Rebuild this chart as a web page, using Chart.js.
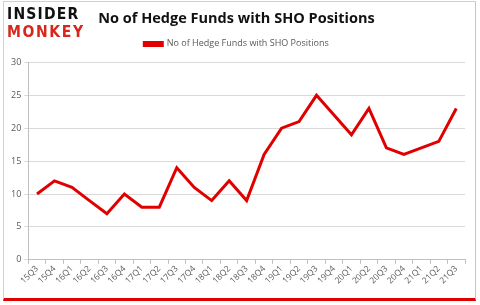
<!DOCTYPE html>
<html>
<head>
<meta charset="utf-8">
<script src="https://cdn.jsdelivr.net/npm/chart.js@4/dist/chart.umd.min.js"></script>
<style>
  html, body { margin: 0; padding: 0; background: #fff; }
  body { width: 480px; height: 305px; position: relative; overflow: hidden; }
  .card {
    position: absolute; left: 3px; top: 1px; width: 471px; height: 296px;
    border: 1px solid #d0d0d0; border-right-color: #f3b3b3;
    border-bottom: 3px solid #e00000;
  }
  .logo {
    position: absolute; left: 7px; top: 4px;
    font-family: "DejaVu Sans", sans-serif; font-weight: bold;
    font-size: 14px; line-height: 16px; letter-spacing: 1.2px;
    transform: scaleY(1.15); transform-origin: top left;
  }
  .logo .a { color: #111; }
  .logo .b { color: #d9261c; letter-spacing: 1.6px; }
  canvas { position: absolute; left: 0; top: 0; }
</style>
</head>
<body>
<div class="card"></div>
<canvas id="myChart" width="480" height="305"></canvas>
<div class="logo"><div class="a">INSIDER</div><div class="b">MONKEY</div></div>
<script>
const quarters = ["15Q3", "15Q4", "16Q1", "16Q2", "16Q3", "16Q4", "17Q1", "17Q2", "17Q3", "17Q4",
  "18Q1", "18Q2", "18Q3", "18Q4", "19Q1", "19Q2", "19Q3", "19Q4", "20Q1", "20Q2",
  "20Q3", "20Q4", "21Q1", "21Q2", "21Q3"];
const hedgeFunds = [10, 12, 11, 9, 7, 10, 8, 8, 14, 11, 9, 12, 9, 16, 20, 21, 25, 22, 19, 23, 17, 16, 17, 18, 23];
const seriesName = "No of Hedge Funds with SHO Positions";

// a bit more room under the legend, like the original
const legendGap = {
  id: "legendGap",
  afterInit(chart) {
    const fit = chart.legend.fit;
    chart.legend.fit = function () {
      fit.call(this);
      this.height += 4;
    };
  }
};

const ctx = document.getElementById("myChart");
new Chart(ctx, {
  type: "line",
  data: {
    labels: quarters,
    datasets: [
      {
        label: seriesName,
        data: hedgeFunds,
        borderColor: "#e00000",
        backgroundColor: "#e00000",
        borderWidth: 3,
        pointRadius: 0,
        tension: 0,
        fill: false
      }
    ]
  },
  options: {
    responsive: false,
    animation: false,
    layout: { padding: { top: 10, left: 8, right: 15, bottom: 19 } },
    plugins: {
      title: {
        display: true,
        text: seriesName,
        color: "#111",
        font: { family: "'Open Sans', sans-serif", size: 14.5 },
        padding: { top: 0, bottom: 4 }
      },
      legend: {
        labels: {
          boxWidth: 18,
          boxHeight: 3,
          color: "#595959",
          font: { family: "'Open Sans', sans-serif", size: 9 },
          padding: 8
        }
      },
      tooltip: { enabled: false }
    },
    scales: {
      x: {
        offset: true,
        grid: {
          display: true,
          drawOnChartArea: false,
          offset: true,
          color: "#bfbfbf",
          tickLength: 4
        },
        border: { color: "#bfbfbf" },
        ticks: {
          color: "#595959",
          font: { family: "'Open Sans', sans-serif", size: 8.5 },
          maxRotation: 45,
          minRotation: 45,
          autoSkip: false,
          padding: 0
        }
      },
      y: {
        min: 0,
        max: 30,
        grid: { color: "#d9d9d9", tickLength: 4 },
        border: { color: "#bfbfbf" },
        ticks: {
          stepSize: 5,
          color: "#595959",
          font: { family: "'Open Sans', sans-serif", size: 9 },
          padding: 3
        }
      }
    }
  },
  plugins: [legendGap]
});
</script>
</body>
</html>
